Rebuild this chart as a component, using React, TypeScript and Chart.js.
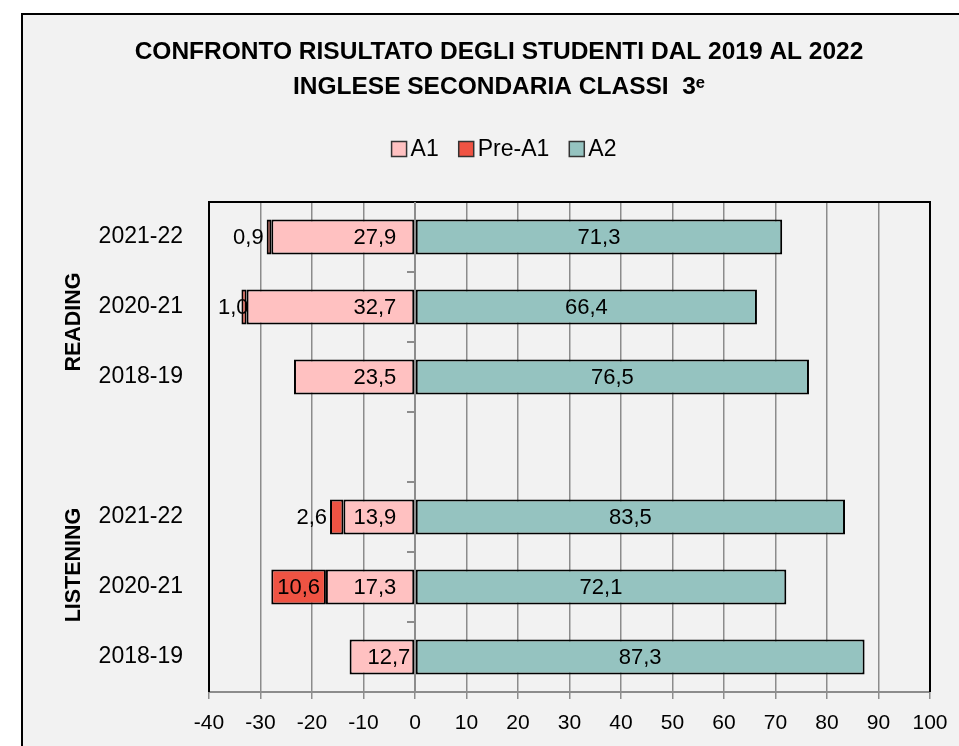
import { useEffect, useRef } from "react";
import { Chart, registerables } from "chart.js";

Chart.register(...registerables);

const categories = ["2021-22", "2020-21", "2018-19", "", "2021-22", "2020-21", "2018-19"];
const groupLabels = ["READING", "LISTENING"];
const seriesNames = ["A1", "Pre-A1", "A2"];
const a1Values: (number | null)[] = [27.9, 32.7, 23.5, null, 13.9, 17.3, 12.7];
const preA1Values: (number | null)[] = [0.9, 1.0, null, null, 2.6, 10.6, null];
const a2Values: (number | null)[] = [71.3, 66.4, 76.5, null, 83.5, 72.1, 87.3];
const xMin = -40;
const xMax = 100;
const xStep = 10;
const titleLines = ["CONFRONTO RISULTATO DEGLI STUDENTI DAL 2019 AL 2022", "INGLESE SECONDARIA CLASSI  3\u1D49"];

const FONT = "'Liberation Sans', Arial, sans-serif";
const GRID = "#8c8c8c";
const COLORS = ["#FFC1C1", "#EF5343", "#95C3C0"];

const fmt = (v: number) => v.toFixed(1).replace(".", ",");

const framePlugin = {
  id: "frame",
  beforeDatasetsDraw(chart: any) {
    const { ctx, chartArea } = chart;
    ctx.save();
    ctx.strokeStyle = "#000";
    ctx.lineWidth = 2;
    ctx.beginPath();
    ctx.moveTo(chartArea.left, chartArea.bottom);
    ctx.lineTo(chartArea.left, chartArea.top);
    ctx.lineTo(chartArea.right, chartArea.top);
    ctx.lineTo(chartArea.right, chartArea.bottom);
    ctx.stroke();
    ctx.restore();
  },
};

const labelPlugin = {
  id: "barLabels",
  afterDatasetsDraw(chart: any) {
    const { ctx, chartArea, scales } = chart;
    const x0 = scales.x.getPixelForValue(0);
    ctx.save();
    ctx.strokeStyle = GRID;
    ctx.lineWidth = 2;
    ctx.beginPath();
    ctx.moveTo(x0, chartArea.top);
    ctx.lineTo(x0, chartArea.bottom);
    for (let i = 0; i < categories.length - 1; i++) {
      const y = Math.round((scales.y.getPixelForValue(i) + scales.y.getPixelForValue(i + 1)) / 2);
      ctx.moveTo(x0 - 8, y);
      ctx.lineTo(x0, y);
    }
    ctx.stroke();

    ctx.font = `22px ${FONT}`;
    ctx.fillStyle = "#000";
    ctx.textBaseline = "middle";
    const raw = [a1Values, preA1Values, a2Values];
    chart.data.datasets.forEach((_ds: any, di: number) => {
      const meta = chart.getDatasetMeta(di);
      meta.data.forEach((bar: any, i: number) => {
        const v = raw[di][i];
        if (v == null) return;
        const { x, base, y } = bar.getProps(["x", "base", "y"], true);
        const txt = fmt(v);
        const w = ctx.measureText(txt).width;
        const left = Math.min(x, base);
        const right = Math.max(x, base);
        const bw = right - left;
        if (di === 0) {
          ctx.textAlign = "right";
          const r = bw - 18 - w < 6 ? right - 4 : right - 18;
          ctx.fillText(txt, r, y + 1);
        } else if (di === 1) {
          if (bw >= w + 6) {
            ctx.textAlign = "center";
            ctx.fillText(txt, (left + right) / 2, y + 1);
          } else {
            let r = left - 3;
            if (r - w < chartArea.left + 9) r = chartArea.left + 9 + w;
            ctx.textAlign = "right";
            ctx.fillText(txt, r, y + 1);
          }
        } else {
          ctx.textAlign = "center";
          ctx.fillText(txt, (left + right) / 2, y + 1);
        }
      });
    });
    ctx.restore();
  },
  afterDraw(chart: any) {
    const { ctx, scales, width } = chart;
    ctx.save();
    // group labels
    ctx.font = `bold 21.5px ${FONT}`;
    ctx.fillStyle = "#000";
    ctx.textAlign = "center";
    ctx.textBaseline = "middle";
    const groupPos = [1.214, 4.686];
    groupLabels.forEach((g, gi) => {
      const y = scales.y.getPixelForValue(groupPos[gi]);
      ctx.save();
      ctx.translate(50, y);
      ctx.rotate(-Math.PI / 2);
      ctx.fillText(g, 0, 1);
      ctx.restore();
    });
    // legend
    ctx.font = `23px ${FONT}`;
    const box = 15;
    const gap = 4;
    const itemGap = 20;
    const widths = seriesNames.map((n) => box + gap + ctx.measureText(n).width);
    const total = widths.reduce((a, b) => a + b, 0) + itemGap * (seriesNames.length - 1);
    let lx = width / 2 + 5 - total / 2;
    const ly = 134;
    ctx.textAlign = "left";
    seriesNames.forEach((n, i) => {
      ctx.fillStyle = COLORS[i];
      ctx.fillRect(lx, ly - box / 2, box, box);
      ctx.strokeStyle = "#333";
      ctx.lineWidth = 1.5;
      ctx.strokeRect(lx, ly - box / 2, box, box);
      ctx.fillStyle = "#000";
      ctx.fillText(n, lx + box + gap, ly + 1);
      lx += widths[i] + itemGap;
    });
    ctx.restore();
  },
};

export default function App() {
  const ref = useRef<HTMLCanvasElement | null>(null);
  useEffect(() => {
    document.documentElement.style.overflow = "hidden";
    document.body.style.overflow = "hidden";
    const neg = (arr: (number | null)[]) => arr.map((v) => (v == null ? null : -v));
    const chart = new Chart(ref.current as HTMLCanvasElement, {
      type: "bar",
      data: {
        labels: categories,
        datasets: [
          { label: seriesNames[0], data: neg(a1Values), backgroundColor: COLORS[0] },
          { label: seriesNames[1], data: neg(preA1Values), backgroundColor: COLORS[1] },
          { label: seriesNames[2], data: a2Values, backgroundColor: COLORS[2] },
        ].map((d) => ({
          ...d,
          borderColor: "#000",
          borderWidth: 2,
          borderSkipped: false,
          barPercentage: 0.5,
          categoryPercentage: 1,
        })) as any,
      },
      options: {
        indexAxis: "y",
        responsive: false,
        animation: false,
        devicePixelRatio: 1,
        layout: { padding: { left: 45, right: 45, top: 0, bottom: 0 } },
        plugins: {
          legend: { display: false },
          tooltip: { enabled: false },
          title: {
            display: true,
            text: titleLines,
            color: "#000",
            font: { family: FONT, size: 24.5, weight: "bold", lineHeight: 35 / 24.5 },
            padding: { top: 20, bottom: 97 },
          },
        },
        scales: {
          x: {
            type: "linear",
            stacked: true,
            min: xMin,
            max: xMax,
            ticks: { stepSize: xStep, color: "#000", font: { family: FONT, size: 21 }, padding: 12 },
            grid: { color: GRID, lineWidth: 1.5, tickLength: 7, tickColor: GRID, drawTicks: true },
            border: { display: true, color: GRID, width: 2 },
            afterFit: (s: any) => {
              s.height = 79;
            },
          },
          y: {
            type: "category",
            stacked: true,
            grid: { display: false, drawTicks: false },
            border: { display: false },
            ticks: { color: "#000", font: { family: FONT, size: 23 }, padding: 26 },
            afterFit: (s: any) => {
              s.width = 141;
            },
          },
        },
      } as any,
      plugins: [framePlugin, labelPlugin],
    });
    return () => chart.destroy();
  }, []);
  return (
    <div
      style={{
        position: "fixed",
        left: 21,
        top: 13,
        width: 956,
        height: 760,
        border: "2px solid #000",
        boxSizing: "border-box",
        background: "#f2f2f2",
        overflow: "hidden",
      }}
    >
      <canvas ref={ref} width={952} height={756} style={{ display: "block", width: 952, height: 756 }} />
    </div>
  );
}
